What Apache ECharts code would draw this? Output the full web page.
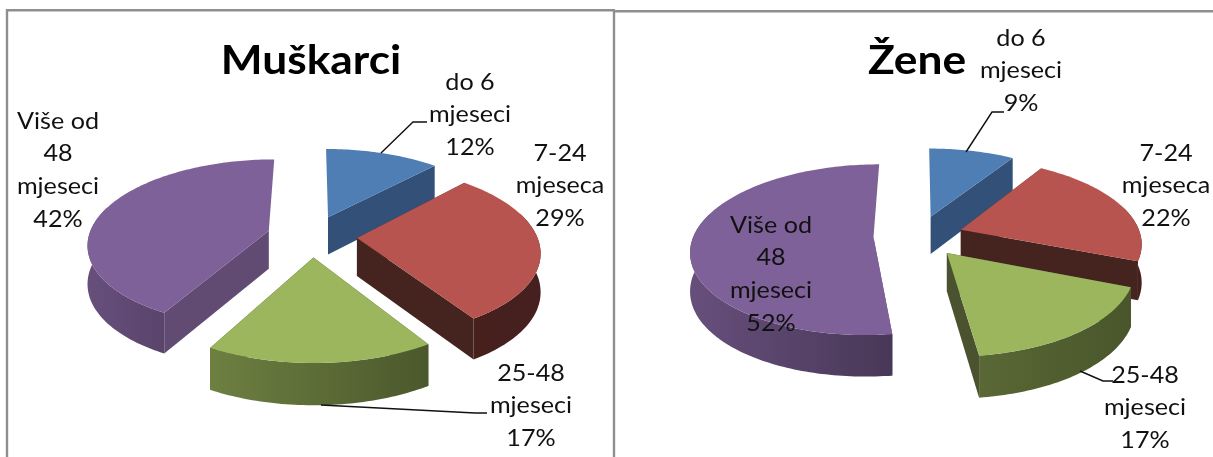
<!DOCTYPE html>
<html>
<head>
<meta charset="utf-8">
<script src="https://cdn.jsdelivr.net/npm/echarts@6/dist/echarts.min.js"></script>
<style>
  html, body { margin: 0; padding: 0; background: #fff; }
  #main { width: 1213px; height: 457px; }
</style>
</head>
<body>
<div id="main"></div>
<script>
var categories = ['do 6 mjeseci', '7-24 mjeseca', '25-48 mjeseci', 'Više od 48 mjeseci'];
var muskarci = [12, 29, 17, 42];
var zene = [9, 22, 17, 52];

var topColors = ['#4f7eb5', '#b8544f', '#9bb65c', '#7e6198'];
var wallColors = ['#325078', '#45231f', '#4a5230', '#624b73'];
var wallGain = [1, 0.8, 1, 1];
// label line breaks, same order as categories
var labelLines = [['do 6', 'mjeseci'], ['7-24', 'mjeseca'], ['25-48', 'mjeseci'], ['Više od', '48', 'mjeseci']];

// projection of the tilted pie
var RX = 180, RY = 83.2, PERSP = 0.145, EXPLODE = 0.25;

var layoutM = {
  cx: 312, cy: 236,
  labels: [[470, 82], [560, 153], [531, 373], [58, 121]],
  leaders: [
    [[381, 153], [413, 122], [427, 122]],
    null,
    [[321, 405], [475, 413], [487, 413]],
    null
  ]
};
var layoutZ = {
  cx: 918.5, cy: 236,
  labels: [[1021, 38], [1166, 153], [1145, 375], [771, 225]],
  leaders: [
    [[966, 152], [992, 112], [1004, 112]],
    null,
    [[1080, 371], [1103, 381], [1113, 381]],
    null
  ]
};

function shade(hex, f) {
  var n = parseInt(hex.slice(1), 16);
  var r = Math.round((n >> 16) * f), g = Math.round(((n >> 8) & 255) * f), b = Math.round((n & 255) * f);
  return 'rgb(' + r + ',' + g + ',' + b + ')';
}

function makeRenderItem(values, layout) {
  var total = values.reduce(function (a, b) { return a + b; }, 0);
  var starts = [], acc = 0;
  values.forEach(function (v) {
    starts.push(acc);
    acc += v;
  });

  // u to the right, v towards the viewer, one pie radius = 1
  function project(u, v) {
    var s = 1 / (1 - PERSP * v);
    return [layout.cx + RX * u * s, layout.cy + RY * v * s];
  }
  function depth(v) {
    return 38 + 3.4 * v;
  }

  return function (params, api) {
    var i = params.dataIndex;
    var a0 = starts[i] / total * Math.PI * 2;
    var a1 = (starts[i] + values[i]) / total * Math.PI * 2;
    var mid = (a0 + a1) / 2;

    var eu = EXPLODE * Math.sin(mid), ev = -EXPLODE * Math.cos(mid);
    var apex = project(eu, ev);
    var apexDepth = depth(ev);
    // slices further back are painted first
    var z = Math.round(ev * 100) + 100;

    var top = [apex], outer = [], under = [];
    var steps = Math.max(2, Math.ceil((a1 - a0) / 0.02));
    var lo = null, hi = null;
    var first = null, last = null;
    for (var k = 0; k <= steps; k++) {
      var th = a0 + (a1 - a0) * k / steps;
      var v = ev - Math.cos(th);
      var p = project(eu + Math.sin(th), v);
      var d = depth(v);
      top.push(p);
      if (k === 0) first = [p[0], p[1], d];
      if (k === steps) last = [p[0], p[1], d];
      // the back of the rim is hidden by the top face
      if (-Math.cos(th) > -0.3) {
        outer.push(p);
        under.unshift([p[0], p[1] + d]);
        if (!lo || p[0] < lo.x) lo = { x: p[0], s: Math.sin(th) };
        if (!hi || p[0] > hi.x) hi = { x: p[0], s: Math.sin(th) };
      }
    }

    var children = [];

    // flat cut faces, a face along the back edge is not seen
    [first, last].forEach(function (pt, n) {
      var ang = n ? a1 : a0;
      if (Math.abs(Math.sin(ang)) < 0.01) return;
      children.push({
        type: 'polygon',
        z2: z,
        shape: { points: [apex, [pt[0], pt[1]], [pt[0], pt[1] + pt[2]], [apex[0], apex[1] + apexDepth]] },
        style: { fill: wallColors[i] }
      });
    });

    // curved outer wall, light on the left and dark on the right
    if (lo && hi) {
      var fL = Math.max(0.47, 0.6 - 0.22 * lo.s) * wallGain[i];
      var fR = Math.max(0.47, 0.6 - 0.22 * hi.s) * wallGain[i];
      children.push({
        type: 'polygon',
        z2: z + 1,
        shape: { points: outer.concat(under) },
        style: {
          fill: {
            type: 'linear', global: true,
            x: lo.x, y: 0, x2: hi.x + 0.01, y2: 0,
            colorStops: [
              { offset: 0, color: shade(topColors[i], fL) },
              { offset: 1, color: shade(topColors[i], fR) }
            ]
          }
        }
      });
    }

    children.push({
      type: 'polygon',
      z2: z + 2,
      shape: { points: top },
      style: { fill: topColors[i] }
    });

    // leader line and label stay above every slice
    var leader = layout.leaders[i];
    if (leader) {
      children.push({
        type: 'polyline',
        z2: 300,
        shape: { points: leader },
        style: { fill: 'none', stroke: '#111', lineWidth: 1.4 }
      });
    }
    var lines = labelLines[i].concat([values[i] + '%']);
    lines.forEach(function (txt, n) {
      children.push({
        type: 'text',
        z2: 301,
        x: layout.labels[i][0],
        y: layout.labels[i][1] + n * 32.7,
        scaleX: 1.07,
        style: {
          text: txt,
          fill: '#111',
          font: '23.5px Lato',
          align: 'center',
          verticalAlign: 'middle'
        }
      });
    });

    return { type: 'group', children: children };
  };
}

function buildData(values) {
  return values.map(function (v, i) {
    return { name: categories[i], value: v };
  });
}

function titleText(txt, x) {
  return {
    type: 'text',
    silent: true,
    x: x,
    y: 61,
    scaleX: 1.08,
    style: { text: txt, fill: '#000', font: 'bold 41px Lato', align: 'center', verticalAlign: 'middle' }
  };
}

var chart = echarts.init(document.getElementById('main'), null, { renderer: 'canvas' });
chart.setOption({
  animation: false,
  backgroundColor: '#fff',
  graphic: [
    // panel frames
    { type: 'polyline', silent: true, shape: { points: [[7, 457], [7, 10.2], [615, 10.2]] }, style: { fill: 'none', stroke: '#8f8f8f', lineWidth: 2.4 } },
    { type: 'polyline', silent: true, shape: { points: [[614, 457], [614, 11.2], [1213, 11.2]] }, style: { fill: 'none', stroke: '#8f8f8f', lineWidth: 2.4 } },
    titleText('Muškarci', 311),
    titleText('Žene', 917)
  ],
  series: [
    { type: 'custom', coordinateSystem: 'none', silent: true, renderItem: makeRenderItem(muskarci, layoutM), data: buildData(muskarci) },
    { type: 'custom', coordinateSystem: 'none', silent: true, renderItem: makeRenderItem(zene, layoutZ), data: buildData(zene) }
  ]
});
</script>
</body>
</html>
